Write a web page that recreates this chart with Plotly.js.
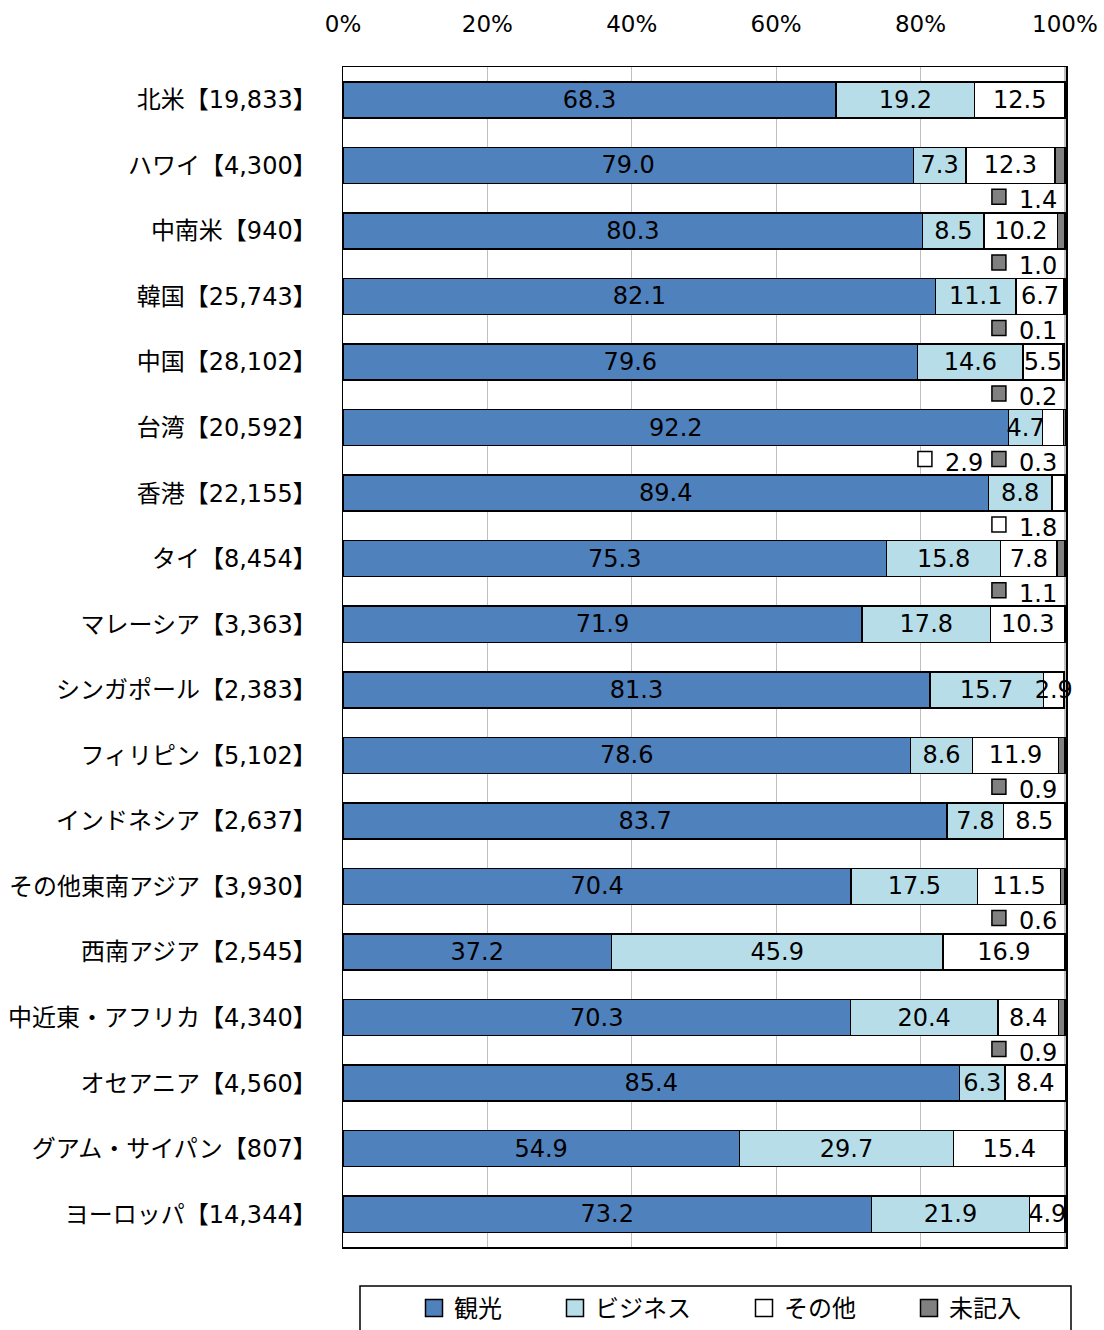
<!DOCTYPE html>
<html>
<head>
<meta charset="utf-8">
<script src="https://cdn.plot.ly/plotly-3.0.1.min.js"></script>
<style>html,body{margin:0;padding:0;background:#fff}</style>
</head>
<body>
<div id="chart" style="width:1104px;height:1330px"></div>
<script>
// ---- data ----
const categories = [
  '北米【19,833】', 'ハワイ【4,300】', '中南米【940】', '韓国【25,743】', '中国【28,102】',
  '台湾【20,592】', '香港【22,155】', 'タイ【8,454】', 'マレーシア【3,363】', 'シンガポール【2,383】',
  'フィリピン【5,102】', 'インドネシア【2,637】', 'その他東南アジア【3,930】', '西南アジア【2,545】',
  '中近東・アフリカ【4,340】', 'オセアニア【4,560】', 'グアム・サイパン【807】', 'ヨーロッパ【14,344】'
];
const seriesNames = ['観光', 'ビジネス', 'その他', '未記入'];
const tourism    = [68.3, 79.0, 80.3, 82.1, 79.6, 92.2, 89.4, 75.3, 71.9, 81.3, 78.6, 83.7, 70.4, 37.2, 70.3, 85.4, 54.9, 73.2];
const business   = [19.2,  7.3,  8.5, 11.1, 14.6,  4.7,  8.8, 15.8, 17.8, 15.7,  8.6,  7.8, 17.5, 45.9, 20.4,  6.3, 29.7, 21.9];
const other      = [12.5, 12.3, 10.2,  6.7,  5.5,  2.9,  1.8,  7.8, 10.3,  2.9, 11.9,  8.5, 11.5, 16.9,  8.4,  8.4, 15.4,  4.9];
const unrecorded = [null, 1.4, 1.0, 0.1, 0.2, 0.3, null, 1.1, null, null, 0.9, null, 0.6, null, 0.9, null, null, null];
// "その他" labels shown below the bar (with a key square) instead of inside
const otherLabelBelow = ['台湾【20,592】', '香港【22,155】'];
const xTickVals = [0, 20, 40, 60, 80, 100];
const xTickText = ['0%', '20%', '40%', '60%', '80%', '100%'];

// ---- style ----
const colors = ['#4F81BD', '#B7DEE8', '#FFFFFF', '#808080'];
const FONT = 'DejaVu Sans, Verdana, Noto Sans CJK JP, sans-serif';
const LEGEND_PAD = '\u3000\u3000';
const fmt = v => (v == null ? '' : v.toFixed(1));

function barTrace(vals, idx, showText) {
  return {
    type: 'bar', orientation: 'h',
    name: seriesNames[idx] + LEGEND_PAD,
    y: categories, x: vals,
    marker: {color: colors[idx], line: {color: '#000', width: 1.5}},
    text: vals.map((v, i) => showText(i) ? fmt(v) : ''),
    textposition: 'inside', insidetextanchor: 'middle', textangle: 0,
    constraintext: 'none', cliponaxis: false,
    insidetextfont: {family: FONT, size: 24, color: '#000'},
    hoverinfo: 'x+name'
  };
}

const traces = [
  barTrace(tourism, 0, () => true),
  barTrace(business, 1, () => true),
  barTrace(other, 2, i => !otherLabelBelow.includes(categories[i])),
  barTrace(unrecorded, 3, () => false)
];

// labels below bars with small key squares
const annotations = [];
const shapes = [];
function belowLabel(i, value, colorIdx, slot) {
  const shift = slot === 0 ? -6 : -80;
  annotations.push({
    x: 100, y: categories[i], xref: 'x', yref: 'y',
    text: fmt(value), showarrow: false, xanchor: 'right', yanchor: 'middle',
    xshift: shift, yshift: -35,
    font: {family: FONT, size: 24, color: '#000'}
  });
  shapes.push({
    type: 'rect', xref: 'x', yref: 'y',
    xsizemode: 'pixel', ysizemode: 'pixel',
    xanchor: 100, yanchor: i,
    x0: shift - 67, x1: shift - 53, y0: -39, y1: -24,
    fillcolor: colors[colorIdx], line: {color: '#000', width: 1.5}
  });
}
categories.forEach((c, i) => {
  const hasU = unrecorded[i] != null;
  if (hasU) belowLabel(i, unrecorded[i], 3, 0);
  if (otherLabelBelow.includes(c)) belowLabel(i, other[i], 2, hasU ? 1 : 0);
});

// legend frame (paper coordinates)
shapes.push({
  type: 'rect', xref: 'paper', yref: 'paper',
  x0: (360 - 343) / 723, x1: (1071 - 343) / 723,
  y0: -(1286 - 1247) / 1180, y1: -(1345 - 1247) / 1180,
  line: {color: '#000', width: 1.5}, fillcolor: 'rgba(0,0,0,0)'
});

const layout = {
  width: 1104, height: 1330,
  margin: {l: 343, r: 38, t: 67, b: 83, pad: 0, autoexpand: false},
  paper_bgcolor: '#fff', plot_bgcolor: '#fff',
  barmode: 'stack', bargap: 0.45,
  font: {family: FONT, color: '#000', size: 22},
  xaxis: {
    range: [0, 100.15], side: 'top', tickvals: xTickVals, ticktext: xTickText,
    showgrid: true, gridcolor: '#BFBFBF', gridwidth: 1.2,
    showline: true, mirror: true, linecolor: '#000', linewidth: 1.5,
    zeroline: false, ticks: '', ticklabelstandoff: 24,
    tickfont: {family: FONT, size: 23, color: '#000'}, fixedrange: true
  },
  yaxis: {
    type: 'category', autorange: 'reversed',
    showgrid: false, showline: true, mirror: true, linecolor: '#000', linewidth: 1.5,
    zeroline: false, ticks: '', ticklabelstandoff: 20,
    tickfont: {family: FONT, size: 24, color: '#000'}, fixedrange: true
  },
  showlegend: true,
  legend: {
    orientation: 'h', traceorder: 'normal',
    x: (414 - 343) / 723, xanchor: 'left',
    y: -(1286 - 1247) / 1180, yanchor: 'top',
    borderwidth: 0, bgcolor: 'rgba(0,0,0,0)',
    font: {family: FONT, size: 24, color: '#000'}
  },
  annotations: annotations,
  shapes: shapes
};

Plotly.newPlot('chart', traces, layout, {displayModeBar: false, staticPlot: true}).then(gd => {
  // enlarge the legend key squares to match the original's bigger swatches
  gd.querySelectorAll('.legend .legendpoints path').forEach(p => {
    p.setAttribute('d', 'M8.5,8.5H-8.5V-8.5H8.5Z');
  });
});
</script>
</body>
</html>
